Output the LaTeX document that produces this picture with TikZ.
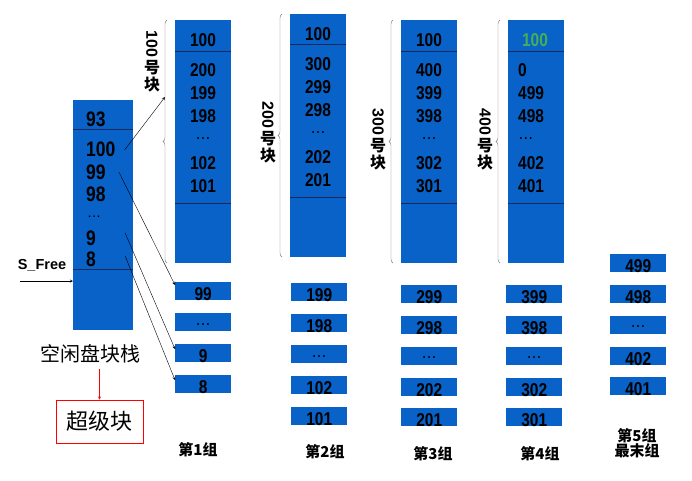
\documentclass[tikz,border=0pt]{standalone}
\usepackage{fontspec}
\setmainfont{Liberation Sans}
\newfontfamily\cjk{Noto Sans CJK SC}
\usetikzlibrary{decorations.pathreplacing}
\definecolor{blockblue}{RGB}{8,98,200}
\definecolor{divline}{RGB}{20,40,90}
\definecolor{greennum}{RGB}{70,175,85}
\definecolor{bracegray}{RGB}{120,120,120}
\newcommand\tallnum[1]{\scalebox{1}[1.2]{#1}}
\newcommand\dotsym{\smash{\raisebox{0pt}{\mdseries …}}}
\begin{document}
\begin{tikzpicture}[x=1pt, y=-1pt,
        block/.style={fill=blockblue, anchor=north west, inner sep=0pt, minimum width=56pt},
        cell/.style={block, minimum height=18pt},
        num/.style={font=\fontsize{15.5}{15}\bfseries\selectfont, inner sep=0pt},
        bignum/.style={font=\fontsize{17.5}{17}\bfseries\selectfont, inner sep=0pt, anchor=west},
        divider/.style={draw=divline, line width=0.8pt},
        ptr/.style={->, >=stealth, thin},
        grpbrace/.style={draw=bracegray, decorate, decoration={brace, amplitude=4pt}},
        vlabel/.style={align=center, inner sep=0pt, font=\fontsize{16}{17}\bfseries\selectfont},
        grp/.style={align=center, inner sep=0pt, font=\cjk\fontsize{15}{15.5}\bfseries\selectfont}
    ]
    \useasboundingbox (0,0) rectangle (692,480);

    % free block stack in memory
    \node[block, minimum width=60pt, minimum height=230pt] (stack) at (73,100) {};
    \draw[divider] (73,129) -- (133,129);
    \draw[divider] (73,269) -- (133,269);
    \node[bignum] (s93) at (86,119) {\tallnum{93}};
    \node[bignum] (s100) at (86,149) {\tallnum{100}};
    \node[bignum] (s99) at (86,172) {\tallnum{99}};
    \node[bignum] (s98) at (86,194) {\tallnum{98}};
    \node[bignum, font=\fontsize{14}{14}\selectfont] (sdots) at (87,217) {\dotsym};
    \node[bignum] (s9) at (86,238) {\tallnum{9}};
    \node[bignum] (s8) at (86,259) {\tallnum{8}};

    \node[font=\fontsize{14.5}{14}\bfseries\selectfont, inner sep=0pt] (sfree) at (42,265) {S\_Free};
    \coordinate (sfreetail) at (20,281);
    \draw[ptr] (sfreetail) -- (stack.west |- sfreetail);

    \node[font=\cjk\fontsize{20}{20}\selectfont, inner sep=0pt] (freelbl) at (90,354) {空闲盘块栈};
    \node[draw=red, thick, minimum width=87pt, minimum height=43pt, inner sep=0pt,
        font=\cjk\fontsize{22}{22}\selectfont] (super) at (99.5,421.5) {超级块};
    \draw[red, ->, >=stealth] (super.north |- freelbl.south) ++(0,5) -- (super.north);

    % index blocks of groups 1-4
    \foreach \g/\gx/\gt/\gl/\gb in {1/175/20/51/263, 2/290/14/44/257, 3/401/20/51/263, 4/508/20/51/263} {
        \node[block, minimum height=\gb-\gt] (blk\g) at (\gx,\gt) {};
        \draw[divider] (\gx,\gl) -- (\gx+56,\gl);
        \draw[divider] (\gx,\gb-60) -- (\gx+56,\gb-60);
        \draw[grpbrace] (\gx-8,\gb) -- (\gx-8,\gt);
    }
    \node[num] (h1) at (203,40) {\tallnum{100}};
    \node[num] (h2) at (318,34) {\tallnum{100}};
    \node[num] (h3) at (429,40) {\tallnum{100}};
    \node[num, text=greennum] (h4) at (535,40) {\tallnum{100}};
    \foreach \v [count=\i] in {200,199,198,\dotsym,102,101}
        \node[num] (ga\i) at (203,70+23.2*\i-23.2) {\tallnum{\v}};
    \foreach \v [count=\i] in {300,299,298,\dotsym,202,201}
        \node[num] (gb\i) at (318,64+23.2*\i-23.2) {\tallnum{\v}};
    \foreach \v [count=\i] in {400,399,398,\dotsym,302,301}
        \node[num] (gc\i) at (429,70+23.2*\i-23.2) {\tallnum{\v}};
    \foreach \v [count=\i] in {0,499,498,\dotsym,402,401}
        \node[num, anchor=west] (gd\i) at (518,70+23.2*\i-23.2) {\tallnum{\v}};

    % block number labels
    \node[vlabel] (lbl1) at (152,61) {\rotatebox{-90}{100}\\[2pt]{\cjk 号}\\{\cjk 块}};
    \node[vlabel] (lbl2) at (268,132) {\rotatebox{-90}{200}\\[2pt]{\cjk 号}\\{\cjk 块}};
    \node[vlabel] (lbl3) at (378,139) {\rotatebox{-90}{300}\\[2pt]{\cjk 号}\\{\cjk 块}};
    \node[vlabel] (lbl4) at (485,139) {\rotatebox{-90}{400}\\[2pt]{\cjk 号}\\{\cjk 块}};

    % free blocks of each group
    \foreach \v [count=\i] in {99,\dotsym,9,8} {
        \node[cell] (c1\i) at (175,282+31*\i-31) {};
        \node[num] at ([yshift=-3pt]c1\i.center) {\tallnum{\v}};
    }
    \foreach \v [count=\i] in {199,198,\dotsym,102,101} {
        \node[cell] (c2\i) at (291,283+31*\i-31) {};
        \node[num] at ([yshift=-3pt]c2\i.center) {\tallnum{\v}};
    }
    \foreach \v [count=\i] in {299,298,\dotsym,202,201} {
        \node[cell] (c3\i) at (401,285+30.8*\i-30.8) {};
        \node[num] at ([yshift=-3pt]c3\i.center) {\tallnum{\v}};
    }
    \foreach \v [count=\i] in {399,398,\dotsym,302,301} {
        \node[cell] (c4\i) at (506,285+30.8*\i-30.8) {};
        \node[num] at ([yshift=-3pt]c4\i.center) {\tallnum{\v}};
    }
    \foreach \v [count=\i] in {499,498,\dotsym,402,401} {
        \node[cell] (c5\i) at (610,254+30.8*\i-30.8) {};
        \node[num] at ([yshift=-3pt]c5\i.center) {\tallnum{\v}};
    }

    % pointers from the stack
    \coordinate (lbl1tip) at (165,97);
    \draw[ptr] ([xshift=9pt,yshift=-1pt]s100.east) -- (lbl1tip);
    \draw[ptr] ([xshift=13pt]s99.east) -- ([yshift=-3pt]c11.north west);
    \draw[ptr] ([xshift=29pt,yshift=5pt]s9.east) -- ([yshift=-5pt]c13.north west);
    \draw[ptr] ([xshift=29pt,yshift=3pt]s8.east) -- ([yshift=-5pt]c14.north west);

    % group captions
    \node[grp] (grp1) at (198,450) {第\textbf{1}组};
    \node[grp] (grp2) at (325,452) {第\textbf{2}组};
    \node[grp] (grp3) at (433,454) {第\textbf{3}组};
    \node[grp] (grp4) at (540,454) {第\textbf{4}组};
    \node[grp] (grp5) at (637,443) {第\textbf{5}组\\最末组};
\end{tikzpicture}
\end{document}
